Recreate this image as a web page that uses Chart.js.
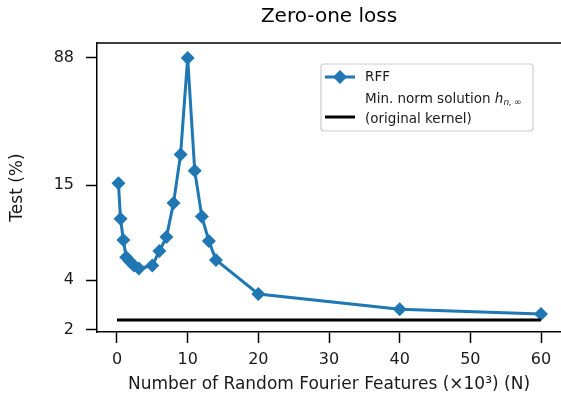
<!DOCTYPE html>
<html>
<head>
<meta charset="utf-8">
<script src="https://cdn.jsdelivr.net/npm/chart.js@4"></script>
<style>
  html, body { margin: 0; padding: 0; background: #fff; }
  #wrap { width: 561px; height: 400px; }
</style>
</head>
<body>
<div id="wrap"><canvas id="chart" width="561" height="400"></canvas></div>
<script>
// données (N en milliers)
var rffN = [0.2, 0.5, 0.9, 1.3, 1.8, 2.4, 3.1, 5, 6, 7, 8, 9, 10, 11, 12, 13, 14, 20, 40, 60];
var rffTest = [15.4, 9.4, 7.0, 5.5, 5.2, 4.9, 4.7, 4.9, 6.0, 7.3, 11.7, 23, 88, 18.3, 9.7, 6.9, 5.3, 3.3, 2.67, 2.5];
var kernelN = [0, 60];
var kernelTest = [2.3, 2.3];
var xTicks = [0, 10, 20, 30, 40, 50, 60];
var yTicks = [2, 4, 15, 88];

const font = "'DejaVu Sans', sans-serif";

// titre, cadre du haut et légende dessinés à la main
const extras = {
  id: "extras",
  afterDraw(chart) {
    const c = chart.ctx;
    const a = chart.chartArea;
    c.save();
    c.strokeStyle = "#000";
    c.lineWidth = 1.5;
    c.beginPath();
    c.moveTo(a.left, a.top);
    c.lineTo(a.right, a.top);
    c.stroke();

    c.fillStyle = "#000";
    c.font = "20px " + font;
    c.textAlign = "center";
    c.textBaseline = "middle";
    c.fillText("Zero-one loss", 329, 17);

    // légende
    const bx = 321, by = 64, bw = 212, bh = 67;
    c.strokeStyle = "#cccccc";
    c.lineWidth = 1.2;
    c.beginPath();
    c.roundRect(bx, by, bw, bh, 3);
    c.stroke();

    c.strokeStyle = "#1f77b4";
    c.lineWidth = 3;
    c.beginPath();
    c.moveTo(325, 77);
    c.lineTo(355, 77);
    c.stroke();
    c.fillStyle = "#1f77b4";
    c.beginPath();
    c.moveTo(340, 70); c.lineTo(347, 77); c.lineTo(340, 84); c.lineTo(333, 77);
    c.closePath();
    c.fill();

    c.strokeStyle = "#000";
    c.lineWidth = 3;
    c.beginPath();
    c.moveTo(325, 117);
    c.lineTo(355, 117);
    c.stroke();

    c.fillStyle = "#1a1a1a";
    c.textAlign = "left";
    c.textBaseline = "middle";
    c.font = "13.5px " + font;
    c.fillText("RFF", 365, 77);
    const t = "Min. norm solution ";
    c.fillText(t, 365, 99);
    let x = 365 + c.measureText(t).width;
    c.font = "italic 13.5px " + font;
    c.fillText("h", x, 99);
    x += c.measureText("h").width;
    c.font = "italic 9px " + font;
    c.fillText("n,", x, 103);
    x += c.measureText("n,").width + 2;
    c.font = "9px " + font;
    c.fillText("\u221e", x, 103);
    c.font = "13.5px " + font;
    c.fillText("(original kernel)", 365, 119);
    c.restore();
  }
};

new Chart(document.getElementById("chart"), {
  type: "line",
  data: {
    datasets: [
      {
        label: "Min. norm solution",
        data: kernelN.map((n, i) => ({ x: n, y: kernelTest[i] })),
        borderColor: "#000",
        borderWidth: 3,
        pointRadius: 0,
        fill: false
      },
      {
        label: "RFF",
        data: rffN.map((n, i) => ({ x: n, y: rffTest[i] })),
        borderColor: "#1f77b4",
        backgroundColor: "#1f77b4",
        borderWidth: 3,
        pointStyle: "rectRot",
        pointRadius: 7,
        pointBorderWidth: 0,
        tension: 0,
        fill: false
      }
    ]
  },
  options: {
    responsive: false,
    animation: false,
    layout: { autoPadding: false, padding: { top: 43, right: 0, left: 0, bottom: 0 } },
    plugins: {
      legend: { display: false },
      title: { display: false },
      tooltip: { enabled: false }
    },
    scales: {
      x: {
        type: "linear",
        min: -2.83,
        max: 62.83,
        afterBuildTicks: s => { s.ticks = xTicks.map(v => ({ value: v })); },
        afterFit: s => { s.height = 68; s.paddingLeft = 0; s.paddingRight = 0; },
        ticks: { color: "#1a1a1a", font: { family: font, size: 16 }, padding: 7, maxRotation: 0 },
        grid: { drawOnChartArea: false, drawTicks: true, tickLength: 11, tickWidth: 1.5, tickColor: "#000" },
        border: { display: true, color: "#000", width: 1.5 },
        title: {
          display: true,
          text: "Number of Random Fourier Features (\u00d710\u00b3) (N)",
          color: "#1a1a1a",
          font: { family: font, size: 17 },
          padding: { top: 0, bottom: 5 }
        }
      },
      y: {
        type: "logarithmic",
        min: 1.945,
        max: 108.4,
        afterBuildTicks: s => { s.ticks = yTicks.map(v => ({ value: v })); },
        afterFit: s => { s.width = 97; s.paddingTop = 0; s.paddingBottom = 0; },
        ticks: { color: "#1a1a1a", font: { family: font, size: 16 }, padding: 12, callback: v => String(v) },
        grid: { drawOnChartArea: false, drawTicks: true, tickLength: 11, tickWidth: 1.5, tickColor: "#000" },
        border: { display: true, color: "#000", width: 1.5 },
        title: {
          display: true,
          text: "Test (%)",
          color: "#1a1a1a",
          font: { family: font, size: 17 },
          padding: { top: 7, bottom: 0 }
        }
      }
    }
  },
  plugins: [extras]
});
</script>
</body>
</html>
